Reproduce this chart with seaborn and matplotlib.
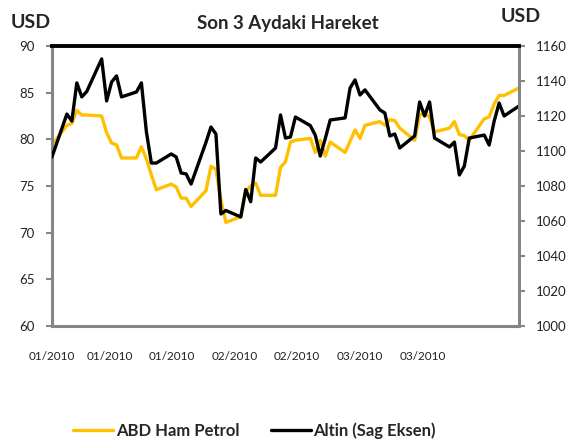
import numpy as np
import pandas as pd
import seaborn as sns
import matplotlib.pyplot as plt

# Veriler
dates = ["2010-01-01", "2010-01-04", "2010-01-05", "2010-01-06", "2010-01-07", "2010-01-08",
         "2010-01-11", "2010-01-12", "2010-01-13", "2010-01-14", "2010-01-15",
         "2010-01-18", "2010-01-19", "2010-01-20", "2010-01-21", "2010-01-22",
         "2010-01-25", "2010-01-26", "2010-01-27", "2010-01-28", "2010-01-29",
         "2010-02-01", "2010-02-02", "2010-02-03", "2010-02-04", "2010-02-05",
         "2010-02-08", "2010-02-09", "2010-02-10", "2010-02-11", "2010-02-12",
         "2010-02-15", "2010-02-16", "2010-02-17", "2010-02-18", "2010-02-19",
         "2010-02-22", "2010-02-23", "2010-02-24", "2010-02-25", "2010-02-26",
         "2010-03-01", "2010-03-02", "2010-03-03", "2010-03-04", "2010-03-05",
         "2010-03-08", "2010-03-09", "2010-03-10", "2010-03-11", "2010-03-12",
         "2010-03-15", "2010-03-16", "2010-03-17", "2010-03-18", "2010-03-19",
         "2010-03-22", "2010-03-23", "2010-03-24", "2010-03-25", "2010-03-26",
         "2010-03-29", "2010-03-30", "2010-03-31", "2010-04-01", "2010-04-02",
         "2010-04-05"]

oil = [79.4, 81.5, 81.7, 83.1, 82.6, 82.6, 82.5, 80.7, 79.6, 79.4, 78.0,
       78.0, 79.2, 77.9, 76.2, 74.6, 75.2, 74.9, 73.7, 73.7, 72.8,
       74.5, 77.1, 76.8, 73.5, 71.1, 71.7, 74.4, 75.0, 75.3, 74.0,
       74.0, 77.0, 77.6, 79.7, 79.9, 80.1, 78.6, 79.9, 78.2, 79.7,
       78.6, 79.8, 81.0, 80.1, 81.5, 81.9, 81.5, 82.1, 82.0, 81.2,
       79.9, 82.6, 82.8, 82.4, 80.8, 81.2, 81.9, 80.5, 80.4, 79.9,
       82.2, 82.4, 83.8, 84.7, 84.7, 85.5]

gold = [1096.6, 1121.1, 1117.1, 1138.9, 1130.9, 1134.0, 1152.6, 1128.6, 1139.4, 1142.9, 1130.9,
        1133.7, 1138.9, 1111.0, 1093.1, 1093.1, 1098.3, 1096.6, 1087.4, 1086.9, 1081.1,
        1105.0, 1113.7, 1109.7, 1064.0, 1066.0, 1062.3, 1078.0, 1071.0, 1096.0, 1093.7,
        1101.7, 1120.6, 1107.4, 1108.0, 1119.4, 1114.5, 1109.0, 1097.1, 1107.0, 1117.7,
        1118.9, 1136.0, 1140.6, 1132.0, 1134.9, 1123.5, 1121.7, 1108.6, 1109.7, 1101.7,
        1108.6, 1128.0, 1120.0, 1128.0, 1107.4, 1102.3, 1105.1, 1086.3, 1091.4, 1107.4,
        1109.1, 1103.4, 1117.0, 1127.4, 1120.0, 1125.7]

xlabels = ["01/2010", "01/2010", "01/2010", "02/2010", "02/2010", "03/2010", "03/2010"]

df = pd.DataFrame({"tarih": pd.to_datetime(dates), "petrol": oil, "altin": gold})

sns.set_style("white")
plt.rcParams["font.family"] = ["Lato", "DejaVu Sans"]

gray = "#868686"
yellow = "#FFC000"

fig = plt.figure(figsize=(5.75, 4.46), dpi=100)
ax = fig.add_axes([0.0904, 0.2691, 0.8122, 0.6278])
ax2 = ax.twinx()

sns.lineplot(data=df, x="tarih", y="petrol", ax=ax, color=yellow, linewidth=2.4)
sns.lineplot(data=df, x="tarih", y="altin", ax=ax2, color="black", linewidth=2.4)

start = pd.Timestamp("2010-01-01")
ax.set_xlim(start, pd.Timestamp("2010-04-05"))
ax.set_ylim(60, 90)
ax2.set_ylim(1000, 1160)
ax.set_yticks(np.arange(60, 91, 5))
ax2.set_yticks(np.arange(1000, 1161, 20))

# tick isaretleri 14 gunde bir, etiketler Excel'deki gibi biraz kaymis
ax.set_xticks([start + pd.Timedelta(days=14 * i) for i in range(7)], minor=True)
lab_days = [0, 11.7, 24.1, 36.8, 49.3, 62.0, 74.6]
ax.set_xticks([start + pd.Timedelta(days=d) for d in lab_days])
ax.set_xticklabels(xlabels)
ax.tick_params(axis="x", which="major", length=0, pad=18, labelsize=8.5, colors="#222222")
ax.tick_params(axis="x", which="minor", length=4, width=1.5, color=gray, direction="out")
ax.tick_params(axis="y", which="major", left=True, length=4.5, width=1.5, color=gray,
               labelsize=9.5, labelcolor="#222222", pad=8)
ax2.tick_params(axis="y", which="major", right=True, length=4.5, width=1.5, color=gray,
                labelsize=9.5, labelcolor="#222222", pad=8)

ax.set_xlabel("")
ax.set_ylabel("")
ax2.set_ylabel("")

for s in ["left", "bottom"]:
    ax.spines[s].set_color(gray)
    ax.spines[s].set_linewidth(2.2)
ax.spines["right"].set_visible(False)
ax.spines["top"].set_visible(False)
for s in ["left", "bottom"]:
    ax2.spines[s].set_visible(False)
ax2.spines["right"].set_color(gray)
ax2.spines["right"].set_linewidth(2.2)
ax2.spines["top"].set_color("black")
ax2.spines["top"].set_linewidth(2.8)

fig.text(0.054, 0.950, "USD", fontsize=14, fontweight="bold", ha="center", va="center")
fig.text(0.905, 0.963, "USD", fontsize=14, fontweight="bold", ha="center", va="center")
fig.text(0.500, 0.948, "Son 3 Aydaki Hareket", fontsize=13.5, fontweight="bold",
         ha="center", va="center")

h1 = ax.get_lines()[0]
h2 = ax2.get_lines()[0]
fig.legend([h1, h2], ["ABD Ham Petrol", "Altin (Sag Eksen)"], loc="center",
           bbox_to_anchor=(0.443, 0.034), ncol=2, frameon=False,
           prop={"weight": "bold", "size": 12}, handlelength=2.4,
           handletextpad=0.15, columnspacing=1.9)

fig.savefig("out.png", dpi=100)
